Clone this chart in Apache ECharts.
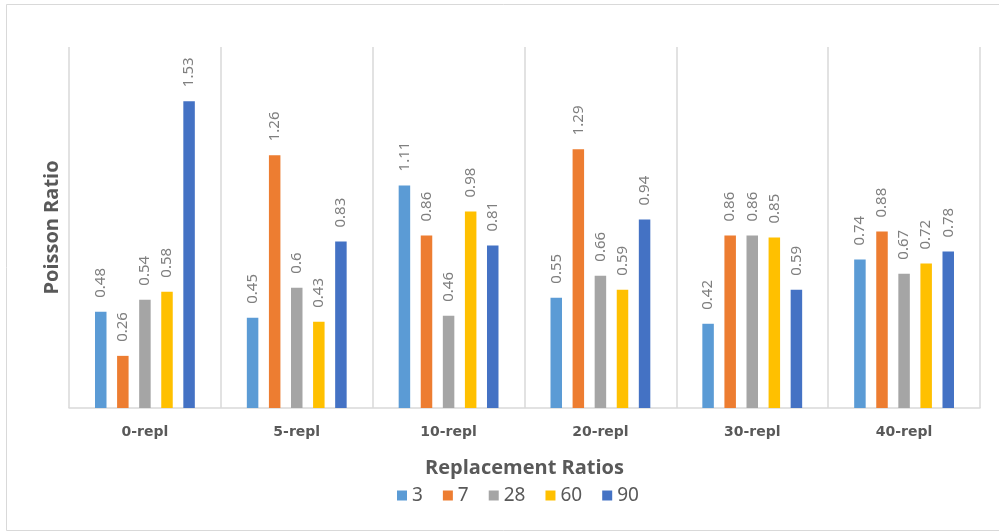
<!DOCTYPE html>
<html>
<head>
<meta charset="utf-8">
<script src="https://cdn.jsdelivr.net/npm/echarts@6/dist/echarts.min.js"></script>
<style>
  html, body { margin: 0; padding: 0; background: #fff; }
  #chart { width: 999px; height: 532px; }
</style>
</head>
<body>
<div id="chart"></div>
<script>
// Poisson ratio by replacement ratio, one bar per curing age
const categories = ['0-repl', '5-repl', '10-repl', '20-repl', '30-repl', '40-repl'];
const seriesNames = ['3', '7', '28', '60', '90'];
const age3  = [0.48, 0.45, 1.11, 0.55, 0.42, 0.74];
const age7  = [0.26, 1.26, 0.86, 1.29, 0.86, 0.88];
const age28 = [0.54, 0.6, 0.46, 0.66, 0.86, 0.67];
const age60 = [0.58, 0.43, 0.98, 0.59, 0.85, 0.72];
const age90 = [1.53, 0.83, 0.81, 0.94, 0.59, 0.78];

const seriesValues = [age3, age7, age28, age60, age90];
const colors = ['#5B9BD5', '#ED7D31', '#A5A5A5', '#FFC000', '#4472C4'];

const chart = echarts.init(document.getElementById('chart'));

const series = seriesNames.map((name, i) => ({
  name: name,
  type: 'bar',
  data: seriesValues[i],
  barWidth: 11.5,
  barGap: '92%',
  itemStyle: { color: colors[i] },
  label: {
    show: true,
    position: 'top',
    rotate: 90,
    align: 'left',
    verticalAlign: 'middle',
    distance: 14,
    color: '#7F7F7F',
    fontSize: 15,
    fontFamily: 'Noto Sans'
  }
}));

chart.setOption({
  animation: false,
  backgroundColor: '#ffffff',
  color: colors,
  graphic: [{
    type: 'rect',
    shape: { x: 6.5, y: 4.5, width: 1000, height: 526 },
    style: { fill: 'none', stroke: '#D9D9D9', lineWidth: 1 },
    silent: true
  }],
  grid: { left: 69, right: 19, top: 47, bottom: 124 },
  legend: {
    data: seriesNames,
    top: 481,
    left: 392,
    itemWidth: 10,
    itemHeight: 10,
    itemGap: 20,
    icon: 'rect',
    textStyle: { color: '#595959', fontSize: 19, fontFamily: 'Noto Sans' }
  },
  xAxis: {
    type: 'category',
    data: categories,
    name: 'Replacement Ratios',
    nameLocation: 'middle',
    nameGap: 50,
    nameTextStyle: { color: '#595959', fontSize: 20, fontWeight: 'bold', fontFamily: 'Open Sans' },
    axisLine: { lineStyle: { color: '#D9D9D9', width: 1.5 } },
    axisTick: { show: false },
    axisLabel: { color: '#595959', fontSize: 14, fontWeight: 'bold', fontFamily: 'DejaVu Sans', margin: 17 },
    splitLine: { show: true, lineStyle: { color: '#D9D9D9', width: 1.5 } }
  },
  yAxis: {
    type: 'value',
    min: 0,
    max: 1.8,
    name: 'Poisson Ratio',
    nameLocation: 'middle',
    nameGap: 7,
    nameTextStyle: { color: '#595959', fontSize: 20, fontWeight: 'bold', fontFamily: 'Open Sans' },
    axisLine: { show: false },
    axisTick: { show: false },
    axisLabel: { show: false },
    splitLine: { show: false }
  },
  series: series
});
</script>
</body>
</html>
